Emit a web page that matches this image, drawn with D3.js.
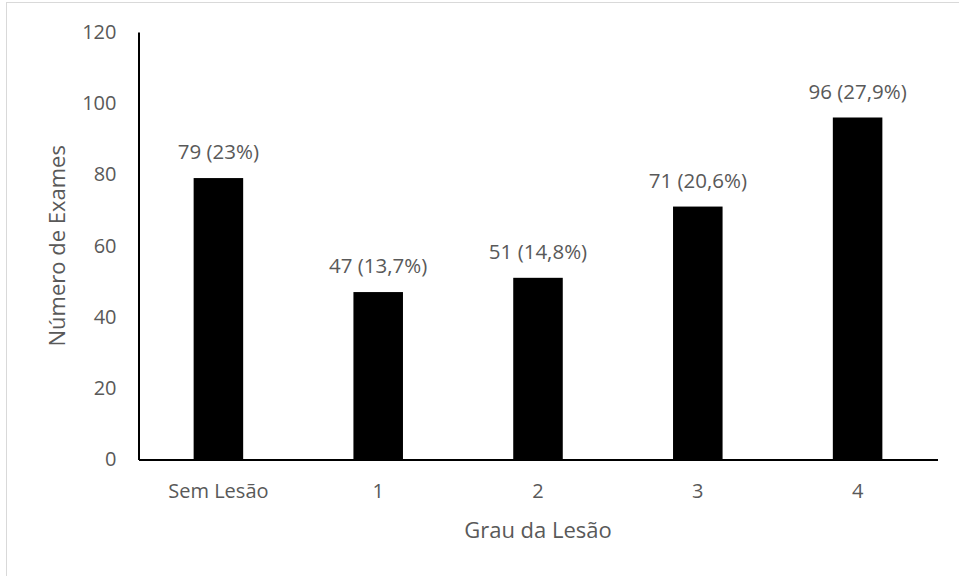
<!DOCTYPE html>
<html><head><meta charset="utf-8">
<script src="https://cdn.jsdelivr.net/npm/d3@7"></script>
<style>body{margin:0;background:#fff;} text{font-family:"Open Sans",sans-serif;}</style>
</head><body>
<svg id="c" width="959" height="576"></svg>
<script>
const categories = ["Sem Lesão", "1", "2", "3", "4"];
const values = [79, 47, 51, 71, 96];
const valueLabels = ["79 (23%)", "47 (13,7%)", "51 (14,8%)", "71 (20,6%)", "96 (27,9%)"];
const yTicks = [0, 20, 40, 60, 80, 100, 120];
const xTitle = "Grau da Lesão";
const yTitle = "Número de Exames";

const svg = d3.select("#c");
const pL = 138.5, pR = 937.5, pT = 32, pB = 459.5;
const txt = "#595959", fs = 20, fsV = 20.5, fsT = 22;

svg.append("rect").attr("x", 6.5).attr("y", 2.5).attr("width", 1000).attr("height", 1000)
  .attr("fill", "none").attr("stroke", "#d9d9d9");

const x = d3.scaleBand().domain(categories).range([pL, pR]).paddingInner(0.69).paddingOuter(0.345);
const y = d3.scaleLinear().domain([0, 120]).range([pB, pT]);

svg.selectAll("rect.bar").data(values).join("rect").attr("class", "bar")
  .attr("x", (d, i) => x(categories[i])).attr("width", x.bandwidth())
  .attr("y", d => y(d)).attr("height", d => y(0) - y(d)).attr("fill", "#000");

svg.selectAll("text.vl").data(values).join("text").attr("class", "vl")
  .attr("x", (d, i) => x(categories[i]) + x.bandwidth() / 2)
  .attr("y", d => y(d) - 26).attr("dy", "0.35em")
  .attr("text-anchor", "middle").attr("fill", txt).attr("font-size", fsV)
  .text((d, i) => valueLabels[i]);

const ya = svg.append("g").attr("transform", `translate(${pL},0)`)
  .call(d3.axisLeft(y).tickValues(yTicks).tickSize(0).tickPadding(22));
ya.select(".domain").attr("stroke", "#000").attr("stroke-width", 2);
ya.selectAll("text").attr("fill", txt).attr("font-size", fs).attr("font-family", "Open Sans");

const xa = svg.append("g").attr("transform", `translate(0,${pB})`)
  .call(d3.axisBottom(x).tickSize(0).tickPadding(24));
xa.select(".domain").attr("stroke", "#000").attr("stroke-width", 2);
xa.selectAll("text").attr("fill", txt).attr("font-size", fs).attr("font-family", "Open Sans");

svg.append("text").attr("x", (pL + pR) / 2).attr("y", 530).attr("dy", "0.35em")
  .attr("text-anchor", "middle").attr("fill", txt).attr("font-size", fsT).text(xTitle);
svg.append("text").attr("transform", `translate(57,${(pT + pB) / 2}) rotate(-90)`)
  .attr("dy", "0.35em").attr("text-anchor", "middle").attr("fill", txt).attr("font-size", fsT).text(yTitle);
</script>
</body></html>
